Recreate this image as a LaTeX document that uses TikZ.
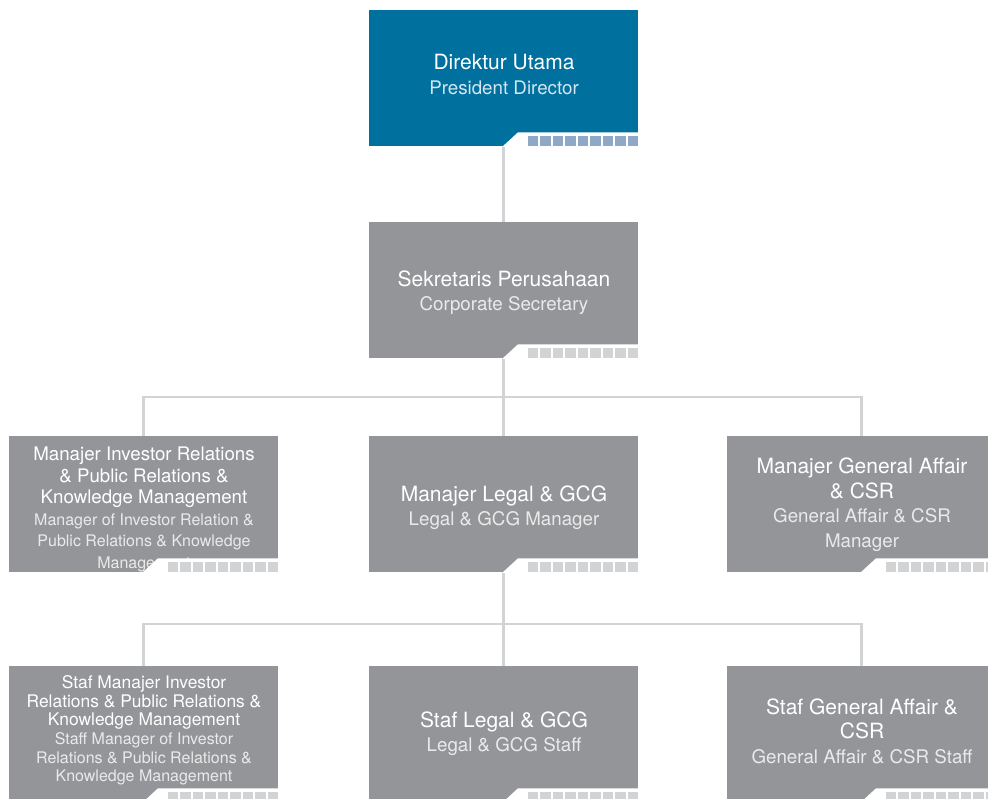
\documentclass[tikz,border=0pt]{standalone}
\usepackage{fontspec}
\setmainfont{TeX Gyre Heros}
\usetikzlibrary{calc}
\definecolor{pblue}{HTML}{00709F}
\definecolor{pgray}{HTML}{939598}
\definecolor{sqblue}{HTML}{8FA8C8}
\definecolor{sqgray}{HTML}{D1D3D4}
\definecolor{lnk}{HTML}{D1D3D4}
\definecolor{subb}{HTML}{D6E6F0}
\definecolor{subg}{HTML}{EAEAEA}
\newcommand{\orgnotch}[2]{%
  \fill[white] ($(#1.south west)+(133,1)$) -- ($(#1.south west)+(149,-13.7)$) -- ($(#1.south east)+(1,-13.7)$) -- ($(#1.south east)+(1,1)$) -- cycle;
  \foreach \i in {0,...,8} \fill[#2] ($(#1.south west)+(159+\i*12.44,0)$) rectangle ++(10.44,-10);
}
\newcommand{\subA}[1]{{\fontsize{18.75}{24.5}\selectfont\color{subg}#1}}
\newcommand{\subB}[1]{{\fontsize{16}{21.6}\selectfont\color{subg}#1}}
\newcommand{\subC}[1]{{\fontsize{16}{18.6}\selectfont\color{subg}#1}}
\begin{document}
\begin{tikzpicture}[x=1pt,y=-1pt,
  box/.style={minimum width=269pt,minimum height=136pt,inner sep=0pt,outer sep=0pt},
  bluebox/.style={box,fill=pblue},
  graybox/.style={box,fill=pgray},
  lbl/.style={text=white,align=center,inner sep=0pt},
  tA/.style={lbl,font=\fontsize{21}{24.5}\selectfont},
  tB/.style={lbl,font=\fontsize{18.7}{21.6}\selectfont},
  tC/.style={lbl,font=\fontsize{17.4}{18.6}\selectfont},
  link/.style={draw=lnk,line width=2.6pt},
  ]
\clip (0,0) rectangle (988,799);
\fill[white] (0,0) rectangle (988,799);

% boxes
\node[bluebox] (dir) at (503.5,78) {};
\node[graybox] (sek) at (503.5,290) {};
\node[graybox] (mir) at (143.5,504) {};
\node[graybox] (mlg) at (503.5,504) {};
\node[graybox] (mga) at (861.5,504) {};
\node[graybox] (sir) at (143.5,734) {};
\node[graybox] (slg) at (503.5,734) {};
\node[graybox] (sga) at (861.5,734) {};

% connectors
\coordinate (j1) at (503.5,397);
\coordinate (j2) at (503.5,624);
\draw[link] (dir.south) -- (sek.north);
\draw[link] (sek.south) -- (j1);
\draw[link] (j1) -- (mlg.north);
\draw[link] (mir.north) -- (mir.north |- j1) -- (mga.north |- j1) -- (mga.north);
\draw[link] (mlg.south) -- (j2);
\draw[link] (j2) -- (slg.north);
\draw[link] (sir.north) -- (sir.north |- j2) -- (sga.north |- j2) -- (sga.north);

% texts
\node[tA] (dirT) at (504,74.5) {Direktur Utama\\{\fontsize{18.75}{24.5}\selectfont\color{subb}President Director}};
\node[tA] (sekT) at (504,292.5) {Sekretaris Perusahaan\\\subA{Corporate Secretary}};
\node[tB] (mirT) at (144,509.5) {Manajer Investor Relations\\\& Public Relations \&\\Knowledge Management\\\subB{Manager of Investor Relation \&}\\\subB{Public Relations \& Knowledge}\\\subB{Management}};
\node[tA] (mlgT) at (504,507.5) {Manajer Legal \& GCG\\\subA{Legal \& GCG Manager}};
\node[tA] (mgaT) at (862,504.5) {Manajer General Affair\\\& CSR\\\subA{General Affair \& CSR}\\\subA{Manager}};
\node[tC] (sirT) at (144,730.5) {Staf Manajer Investor\\Relations \& Public Relations \&\\Knowledge Management\\\subC{Staff Manager of Investor}\\\subC{Relations \& Public Relations \&}\\\subC{Knowledge Management}};
\node[tA] (slgT) at (504,733.5) {Staf Legal \& GCG\\\subA{Legal \& GCG Staff}};
\node[tA] (sgaT) at (862,731) {Staf General Affair \&\\CSR\\\subA{General Affair \& CSR Staff}};

% notches and squares
\orgnotch{dir}{sqblue}
\orgnotch{sek}{sqgray}
\orgnotch{mir}{sqgray}
\orgnotch{mlg}{sqgray}
\orgnotch{mga}{sqgray}
\orgnotch{sir}{sqgray}
\orgnotch{slg}{sqgray}
\orgnotch{sga}{sqgray}
\end{tikzpicture}
\end{document}
